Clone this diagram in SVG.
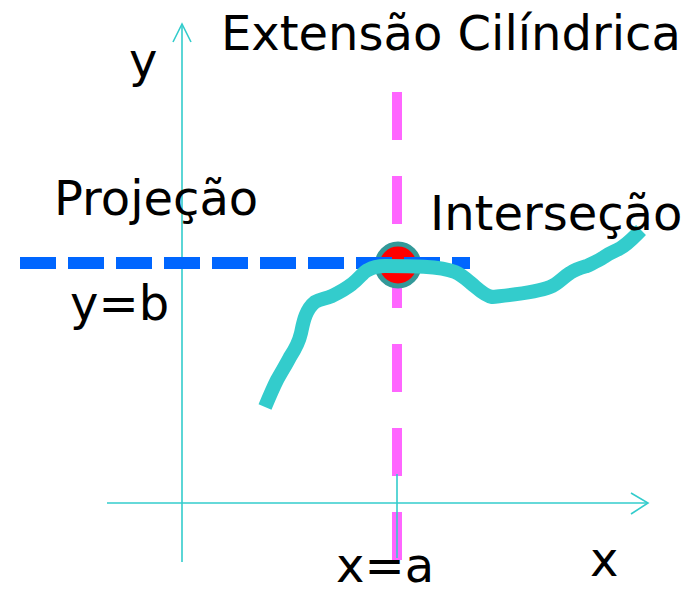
<svg xmlns="http://www.w3.org/2000/svg" width="689" height="594" viewBox="0 0 689 594">
<style>
text{font-family:"DejaVu Sans",Verdana,sans-serif;font-size:48px;fill:#000}
.axis{stroke:#33CCCC;stroke-width:1.6;fill:none}
</style>
<rect width="689" height="594" fill="#fff"/>
<g id="axes">
<line class="axis" x1="182" y1="562" x2="182" y2="24"/>
<polyline class="axis" points="173,42 182,24 191,42"/>
<line class="axis" x1="107" y1="503" x2="648" y2="503"/>
<polyline class="axis" points="631,493 648,503 631,514"/>
</g>
<g id="x-eq-a-line">
<line x1="397" y1="92" x2="397" y2="560" stroke="#FF66FF" stroke-width="10" stroke-dasharray="48 36"/>
<line class="axis" x1="397" y1="474" x2="397" y2="558"/>
</g>
<g id="intersection-point">
<circle cx="398" cy="265" r="21" fill="#FF0000" stroke="#339999" stroke-width="5"/>
</g>
<g id="y-eq-b-line">
<line x1="20" y1="263" x2="470" y2="263" stroke="#0066FF" stroke-width="12" stroke-dasharray="36 12"/>
</g>
<g id="curve">
<path d="M265,407 C270,395 274,386 277,380 C282,371 287,363 290,357 C296,348 299,342 301,333 C303,324 305,310 315,302 C320,299 325,299 332,296 C340,292 347,288 352,284 C360,278 363,272 368,270 C373,267 378,266 385,266 C410,266 440,266 455,272 C462,275 466,279 472,284 C478,289 485,296 492,297 C510,295 535,293 550,287 C558,284 562,278 570,273 C576,269 580,268 587,266 C593,263 598,261 604,257 C609,253 613,252 619,249 C628,244 633,238 641,230" fill="none" stroke="#33CCCC" stroke-width="14" stroke-linejoin="round"/>
</g>
<g id="labels">
<text x="221" y="50">Extensão Cilíndrica</text>
<text x="129" y="77">y</text>
<text x="54" y="215">Projeção</text>
<text x="430" y="230">Interseção</text>
<text x="70" y="320">y=b</text>
<text x="336" y="582">x=a</text>
<text x="590" y="576">x</text>
</g>
</svg>
